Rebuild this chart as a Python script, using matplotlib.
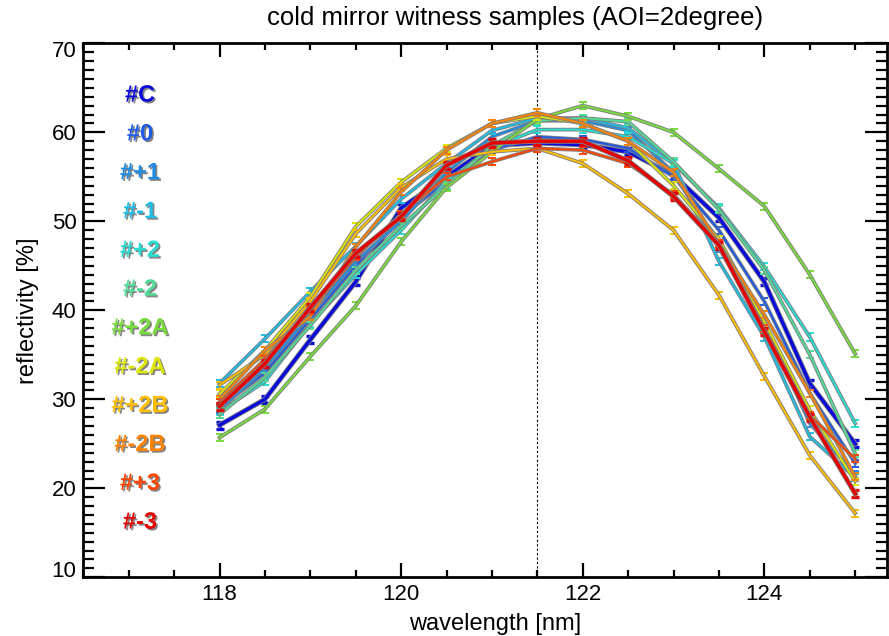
"""
Cold mirror witness samples: reflectivity vs wavelength (AOI = 2 deg).
"""
import numpy as np
import matplotlib
matplotlib.use("Agg")
import matplotlib.pyplot as plt
import matplotlib.patheffects as pe
import matplotlib.transforms as mtrans
from matplotlib.ticker import MultipleLocator

plt.rcParams['font.family'] = ['Liberation Sans', 'DejaVu Sans']

wavelength = [118.0, 118.5, 119.0, 119.5, 120.0, 120.5, 121.0, 121.5,
              122.0, 122.5, 123.0, 123.5, 124.0, 124.5, 125.0]

labels = ['#C', '#0', '#+1', '#-1', '#+2', '#-2',
          '#+2A', '#-2A', '#+2B', '#-2B', '#+3', '#-3']

colors = ['#0a0adc', '#1e5ae6', '#1e8ce6', '#1ebee6', '#28dcd2', '#50dc96',
          '#78dc3c', '#dce600', '#ffbe00', '#ff8200', '#ff4600', '#e60000']

refl_C   = [27.1, 30.0, 36.7, 43.2, 51.5, 55.0, 58.5, 58.8, 58.6, 57.8, 55.2, 50.4, 43.2, 31.8, 25.0]
refl_0   = [29.0, 33.0, 39.0, 45.0, 50.5, 54.5, 58.0, 59.5, 59.2, 58.2, 55.0, 49.0, 41.0, 30.7, 22.8]
refl_p1  = [28.8, 33.5, 39.5, 45.5, 50.0, 55.5, 59.5, 61.3, 61.3, 60.2, 55.5, 47.0, 38.5, 27.3, 21.5]
refl_m1  = [31.8, 36.8, 42.1, 47.2, 52.5, 56.5, 60.2, 61.6, 61.6, 60.5, 56.5, 45.5, 37.0, 25.8, 21.2]
refl_p2  = [28.6, 32.0, 38.5, 44.0, 49.0, 54.5, 58.3, 60.3, 60.3, 59.5, 56.5, 51.5, 44.9, 37.0, 27.3]
refl_m2  = [28.3, 32.5, 38.3, 44.5, 49.5, 54.0, 58.5, 61.3, 61.6, 61.2, 56.7, 51.3, 44.5, 35.0, 23.9]
refl_p2A = [25.7, 28.9, 34.8, 40.5, 47.7, 53.8, 57.8, 61.5, 63.0, 61.8, 60.0, 55.9, 51.7, 44.0, 35.1]
refl_m2A = [30.6, 35.5, 41.5, 49.4, 54.4, 58.2, 61.0, 61.8, 61.0, 59.0, 54.0, 48.0, 38.7, 28.8, 20.8]
refl_p2B = [31.6, 35.0, 41.0, 48.6, 53.8, 57.0, 57.8, 58.2, 56.5, 53.1, 49.0, 41.7, 32.6, 23.7, 17.2]
refl_m2B = [30.0, 35.5, 39.3, 47.1, 53.3, 58.0, 61.0, 62.2, 61.0, 59.0, 55.5, 47.5, 39.5, 30.7, 21.3]
refl_p3  = [29.6, 34.5, 40.0, 46.0, 50.8, 55.0, 56.7, 58.2, 58.0, 56.5, 53.0, 47.5, 38.0, 28.2, 23.3]
refl_m3  = [29.2, 34.0, 40.3, 46.4, 50.5, 56.3, 58.8, 59.0, 59.0, 56.8, 52.8, 47.3, 37.6, 28.0, 19.4]

series = [refl_C, refl_0, refl_p1, refl_m1, refl_p2, refl_m2,
          refl_p2A, refl_m2A, refl_p2B, refl_m2B, refl_p3, refl_m3]
err = 0.4

fig = plt.figure(figsize=(8.89, 6.36), dpi=100)
ax = fig.add_axes([0.0937, 0.0923, 0.904, 0.8396])

for i, (lab, col, y) in enumerate(zip(labels, colors, series)):
    thick = lab in ('#C', '#-3')
    lw = 2.4 if thick else 1.4
    shadow = [pe.Stroke(linewidth=lw + 1.3, foreground='#808080'), pe.Normal()]
    ln, caps, bars = ax.errorbar(wavelength, y, yerr=err, color=col, lw=lw,
                                 elinewidth=lw, capsize=3, capthick=lw,
                                 zorder=2 + i)
    ln.set_path_effects(shadow)
    ax.text(0.0706, 0.903 - i * 0.0727, lab, transform=ax.transAxes,
            color=col, fontsize=17, fontweight='bold', ha='center', va='center',
            path_effects=[pe.SimplePatchShadow(offset=(1.2, -1.2),
                                               shadow_rgbFace='#505050',
                                               alpha=0.7),
                          pe.Normal()])

ax.axvline(121.5, color='k', lw=0.8, ls=(0, (2, 2)), zorder=1)

ax.set_xlim(116.5, 125.35)
ax.set_ylim(10.0, 70.0)
ax.xaxis.set_major_locator(MultipleLocator(2))
ax.xaxis.set_minor_locator(MultipleLocator(0.5))
ax.yaxis.set_major_locator(MultipleLocator(10))
ax.yaxis.set_minor_locator(MultipleLocator(1))
ax.tick_params(which='both', direction='in', top=True, right=True,
               width=1.6, labelsize=16)
ax.tick_params(axis='x', which='major', length=10, pad=5)
ax.tick_params(axis='x', which='minor', length=5)
ax.tick_params(axis='y', which='major', length=16, pad=5)
ax.tick_params(axis='y', which='minor', length=8)
for s in ax.spines.values():
    s.set_linewidth(2)

# end labels of the y axis sit slightly inside the frame
fig.canvas.draw()
ylabs = ax.get_yticklabels()
for lbl in ylabs:
    if lbl.get_text() == '10':
        lbl.set_transform(lbl.get_transform() + mtrans.ScaledTranslation(0, 6 / 72, fig.dpi_scale_trans))
    elif lbl.get_text() == '70':
        lbl.set_transform(lbl.get_transform() + mtrans.ScaledTranslation(0, -4 / 72, fig.dpi_scale_trans))

ax.set_xlabel('wavelength [nm]', fontsize=17)
ax.xaxis.set_label_coords(0.512, -0.067)
ax.set_ylabel('reflectivity [%]', fontsize=17)
ax.yaxis.set_label_coords(-0.055, 0.5)
fig.text(0.579, 0.972, 'cold mirror witness samples (AOI=2degree)',
         ha='center', va='center', fontsize=18.5)

fig.savefig('out.png', dpi=100)
